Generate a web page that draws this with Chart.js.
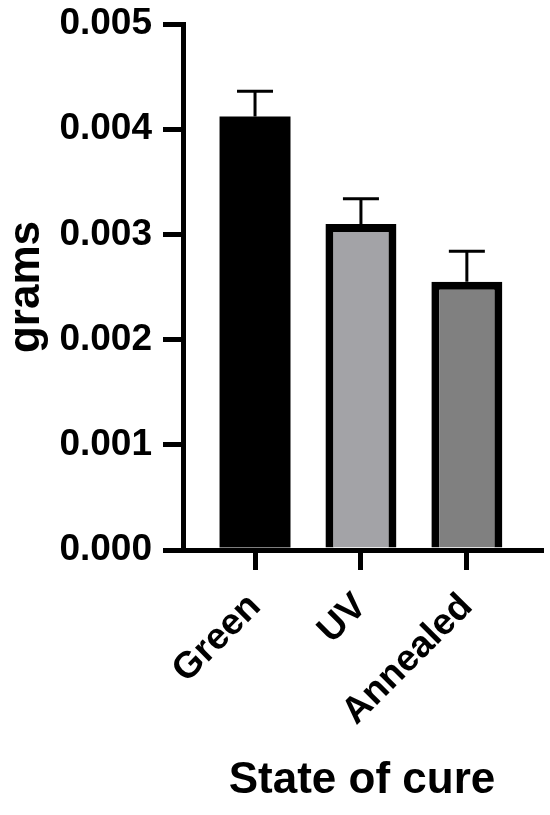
<!DOCTYPE html>
<html>
<head>
<meta charset="utf-8">
<script src="https://cdn.jsdelivr.net/npm/chart.js@4/dist/chart.umd.min.js"></script>
<style>
  html, body { margin: 0; padding: 0; background: #fff; }
  #wrap { width: 550px; height: 815px; position: relative; }
</style>
</head>
<body>
<div id="wrap"><canvas id="c"></canvas></div>
<script>
const categories = ['Green', 'UV', 'Annealed'];
const means = [0.00412, 0.00310, 0.00255];
const errorsUp = [0.00024, 0.00024, 0.00029];
const fillColors = ['#000000', '#a3a3a7', '#808080'];
const borderWidths = [0, 8, 8];
const yTicks = [0, 0.001, 0.002, 0.003, 0.004, 0.005];
const xTitle = 'State of cure';
const yTitle = 'grams';

const FONT = "'Liberation Sans', Arial, Helvetica, sans-serif";

const errorBarPlugin = {
  id: 'errorBars',
  afterDatasetsDraw(chart) {
    const ctx = chart.ctx;
    const meta = chart.getDatasetMeta(0);
    const yScale = chart.scales.y;
    ctx.save();
    ctx.strokeStyle = '#000';
    ctx.lineWidth = 3;
    meta.data.forEach((el, i) => {
      const x = el.x;
      const yTop = yScale.getPixelForValue(means[i]);
      const yCap = yScale.getPixelForValue(means[i] + errorsUp[i]);
      ctx.beginPath();
      ctx.moveTo(x, yTop);
      ctx.lineTo(x, yCap);
      ctx.moveTo(x - 18, yCap);
      ctx.lineTo(x + 18, yCap);
      ctx.stroke();
    });
    ctx.restore();
  }
};

new Chart(document.getElementById('c'), {
  type: 'bar',
  data: {
    datasets: [{
      data: categories.map((c, i) => ({ x: i, y: means[i] })),
      backgroundColor: fillColors,
      borderColor: '#000',
      borderWidth: borderWidths,
      borderSkipped: 'start',
      barPercentage: 0.67,
      categoryPercentage: 1.0
    }]
  },
  options: {
    responsive: true,
    maintainAspectRatio: false,
    animation: false,
    events: [],
    layout: { padding: { top: 24, right: 9, left: 0, bottom: 0 } },
    plugins: { legend: { display: false }, tooltip: { enabled: false } },
    scales: {
      x: {
        type: 'linear',
        min: -0.68,
        max: 2.7,
        offset: false,
        z: 1,
        border: { display: true, color: '#000', width: 5 },
        grid: { display: true, offset: false, drawOnChartArea: false, drawTicks: true, tickLength: 20, tickWidth: 5, tickColor: '#000', color: '#000', lineWidth: 5 },
        afterBuildTicks(scale) {
          scale.ticks = categories.map((c, i) => ({ value: i }));
        },
        afterFit(scale) {
          scale.height = 265;
          scale.paddingLeft = 0;
          scale.paddingRight = 0;
        },
        ticks: {
          autoSkip: false,
          minRotation: 45,
          maxRotation: 45,
          padding: 15,
          color: '#000',
          font: { family: FONT, size: 37, weight: 'bold' },
          callback: (v) => categories[v]
        },
        title: {
          display: true,
          text: xTitle,
          color: '#000',
          font: { family: FONT, size: 44, weight: 'bold' },
          padding: { top: 0, bottom: 8 }
        }
      },
      y: {
        min: 0,
        max: 0.005,
        z: 1,
        border: { display: true, color: '#000', width: 5 },
        grid: { display: true, drawOnChartArea: false, drawTicks: true, tickLength: 20, tickWidth: 5, tickColor: '#000', color: '#000', lineWidth: 5 },
        afterBuildTicks(scale) {
          scale.ticks = yTicks.map(v => ({ value: v }));
        },
        afterFit(scale) {
          scale.width = 183;
          scale.paddingTop = 0;
          scale.paddingBottom = 0;
        },
        ticks: {
          padding: 11,
          color: '#000',
          font: { family: FONT, size: 37, weight: 'bold' },
          callback: (v) => Number(v).toFixed(3)
        },
        title: {
          display: true,
          text: yTitle,
          color: '#000',
          font: { family: FONT, size: 44, weight: 'bold' },
          padding: { top: 0, bottom: 0 }
        }
      }
    }
  },
  plugins: [errorBarPlugin]
});
</script>
</body>
</html>
